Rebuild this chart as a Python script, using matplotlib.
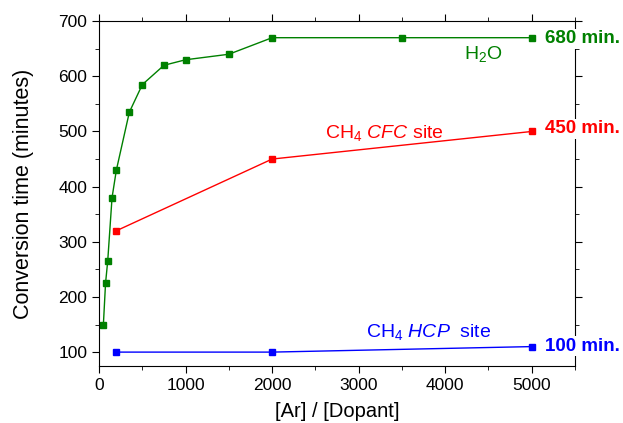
import matplotlib
matplotlib.use('Agg')
import matplotlib.pyplot as plt
from matplotlib.ticker import MultipleLocator

plt.rcParams['font.family'] = ['Liberation Sans', 'DejaVu Sans']
plt.rcParams['mathtext.fontset'] = 'custom'
plt.rcParams['mathtext.rm'] = 'Liberation Sans'
plt.rcParams['mathtext.it'] = 'Liberation Sans:italic'

# data
h2o_x = [50, 75, 100, 150, 200, 350, 500, 750, 1000, 1500, 2000, 3500, 5000]
h2o_y = [150, 225, 265, 380, 430, 535, 585, 620, 630, 640, 670, 670, 670]

cfc_x = [200, 2000, 5000]
cfc_y = [320, 450, 500]

hcp_x = [200, 2000, 5000]
hcp_y = [100, 100, 110]

end_labels = ['680 min.', '450 min.', '100 min.']

hijau = '#008000'
merah = '#ff0000'
biru = '#0000ff'

fig = plt.figure(figsize=(6.23, 4.23), dpi=100)
ax = fig.add_axes([0.159, 0.135, 0.764, 0.815])

ax.plot(h2o_x, h2o_y, '-s', color=hijau, lw=1, ms=5)
ax.plot(cfc_x, cfc_y, '-s', color=merah, lw=1, ms=5)
ax.plot(hcp_x, hcp_y, '-s', color=biru, lw=1, ms=5)

ax.set_xlim(0, 5500)
ax.set_ylim(75, 700)
ax.xaxis.set_major_locator(MultipleLocator(1000))
ax.xaxis.set_minor_locator(MultipleLocator(500))
ax.yaxis.set_major_locator(MultipleLocator(100))
ax.yaxis.set_minor_locator(MultipleLocator(50))
ax.tick_params(which='both', direction='out', top=True, right=True, labelsize=12.5)
ax.tick_params(which='major', length=5)
ax.tick_params(which='minor', length=3)

ax.set_xlabel('[Ar] / [Dopant]', fontsize=14.5)
ax.set_ylabel('Conversion time (minutes)', fontsize=15.5)
ax.xaxis.set_label_coords(0.5, -0.104)
ax.yaxis.set_label_coords(-0.137, 0.5)

# label seri
ax.text(4220, 632, 'H$_2$O', color=hijau, fontsize=14)
ax.text(2616, 488, 'CH$_4$ $CFC$ site', color=merah, fontsize=14)
ax.text(3080, 127, 'CH$_4$ $HCP$  site', color=biru, fontsize=14)

# label ujung kanan
for lbl, yy, c in zip(end_labels, [668, 505, 111], [hijau, merah, biru]):
    ax.text(5150, yy, lbl, color=c, fontsize=13.5, fontweight='bold', va='center',
            clip_on=False, zorder=10,
            bbox=dict(fc='white', ec='none', pad=1))

fig.savefig('out.png', dpi=100)
